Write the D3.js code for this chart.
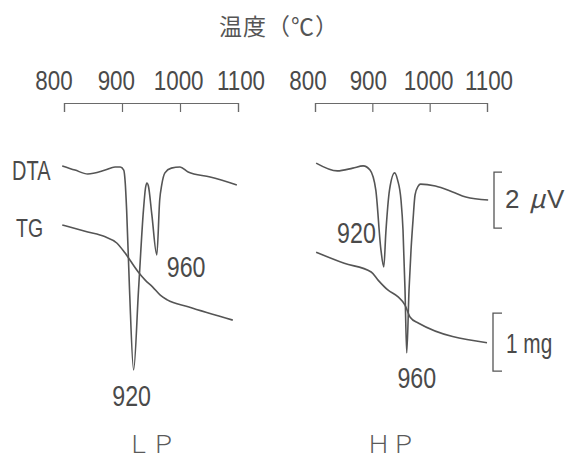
<!DOCTYPE html>
<html><head><meta charset="utf-8">
<script src="https://cdn.jsdelivr.net/npm/d3@7"></script>
<style>
html,body{margin:0;padding:0;background:#fff;}
svg{display:block;}
</style></head>
<body>
<svg id="chart" width="568" height="461"></svg>
<script>
// Temperature axis (°C), shared by both panels
const tickValues = [800, 900, 1000, 1100];
const tickLabels = ["800", "900", "1000", "1100"];
const axisTitle = "温度（℃）";
const panelNames = ["ＬＰ", "ＨＰ"];
const peakTemps = [920, 960];

// DTA traces: [temperature °C, signal μV]
const lpDTA = [[797,0.04],[819,-0.11],[841,-0.25],[871,-0.11],[888,0],[897,0],[903,-0.11],[905.5,-0.54],[908,-1.54],[913,-4.39],[920,-7.25],[928.5,-4.39],[937,-1.54],[940.5,-0.75],[943,-0.57],[945.5,-0.68],[951.5,-1.71],[960,-3.14],[965,-1.18],[968.5,-0.64],[974,-0.21],[985,-0.04],[1000,0],[1014,-0.18],[1052,-0.36],[1098,-0.64]];
const hpDTA = [[802,0.14],[839,-0.14],[866,-0.04],[884,0.04],[896,-0.11],[906,-0.82],[915,-2.96],[920,-3.57],[923.5,-2.36],[930,-0.82],[939,-0.21],[944,-0.46],[950,-1.18],[953.5,-2.25],[957,-4.39],[960,-6.64],[964,-4.39],[967.5,-2.96],[971,-1.89],[974.5,-1.0],[980,-0.68],[984,-0.61],[1010,-0.68],[1040,-0.89],[1063,-1.07],[1102,-1.18]];

// TG traces: [temperature °C, mass change mg]
const lpTG = [[797,0],[841,-0.12],[870,-0.2],[891,-0.31],[905,-0.48],[928,-0.81],[940,-0.95],[953,-1.07],[966,-1.21],[978,-1.29],[1014,-1.41],[1091,-1.64]];
const hpTG = [[802,-0.47],[851,-0.66],[898,-0.81],[910,-0.95],[927,-1.12],[945,-1.24],[957,-1.38],[966,-1.59],[980,-1.69],[1100,-2.03]];

// Scale bar sizes
const dtaBar = 2;   // μV
const tgBar = 1;    // mg

const ink = "#4a4a4a";
const latin = "'Liberation Sans', Arial, sans-serif";
const cjk = "'Noto Sans CJK JP', 'Noto Sans CJK SC', sans-serif";

const svg = d3.select("#chart");

// vertical scales shared by both panels
const yDTA = d3.scaleLinear().domain([0, -dtaBar]).range([167, 223]);
const yTG = d3.scaleLinear().domain([0, -tgBar]).range([225, 283]);

// condensed label text
function narrow(g, x, y, txt, size, sx, anchor) {
  return g.append("text")
    .attr("transform", `translate(${x},${y}) scale(${sx},1)`)
    .attr("font-family", latin)
    .attr("font-size", size)
    .attr("fill", ink)
    .attr("text-anchor", anchor || "start")
    .text(txt);
}

// axis title
svg.append("text")
  .attr("x", 219).attr("y", 35)
  .attr("font-family", cjk).attr("font-size", 23)
  .attr("fill", "#555")
  .attr("letter-spacing", 1)
  .text(axisTitle);

const panels = [
  { name: panelNames[0], range: [64, 238], labelRange: [54, 241], dta: lpDTA, tg: lpTG, nameX: 151,
    peaks: [ {dx: -2, dy: 36, anchor: "middle"}, {dx: 10, dy: 22, anchor: "start"} ] },
  { name: panelNames[1], range: [315, 487], labelRange: [308, 489], dta: hpDTA, tg: hpTG, nameX: 391,
    peaks: [ {dx: -8, dy: -24, anchor: "end"}, {dx: 10, dy: 35, anchor: "middle"} ] }
];

panels.forEach((p, i) => {
  const x = d3.scaleLinear().domain([800, 1100]).range(p.range);
  const xl = d3.scaleLinear().domain([800, 1100]).range(p.labelRange);
  const g = svg.append("g");

  // tick labels
  tickValues.forEach((t, k) => narrow(g, xl(t), 90, tickLabels[k], 28, 0.8, "middle"));

  // bracket-style axis
  const ax = g.append("g").attr("transform", "translate(0,103)")
    .call(d3.axisBottom(x).tickValues(tickValues).tickSize(9).tickFormat(""));
  ax.selectAll("path,line").attr("stroke", "#6a6a6a").attr("stroke-width", 1.2);

  const lineDTA = d3.line().x(d => x(d[0])).y(d => yDTA(d[1])).curve(d3.curveMonotoneX);
  const lineTG = d3.line().x(d => x(d[0])).y(d => yTG(d[1])).curve(d3.curveMonotoneX);

  g.append("path").attr("d", lineDTA(p.dta))
    .attr("fill", "none").attr("stroke", "#555").attr("stroke-width", 1.6).attr("stroke-linejoin", "round");
  g.append("path").attr("d", lineTG(p.tg))
    .attr("fill", "none").attr("stroke", "#555").attr("stroke-width", 1.6).attr("stroke-linejoin", "round");

  // peak temperature labels
  peakTemps.forEach((t, k) => {
    const pt = p.dta.find(d => d[0] === t);
    const o = p.peaks[k];
    narrow(g, x(t) + o.dx, yDTA(pt[1]) + o.dy, String(t), 29, 0.8, o.anchor);
  });

  // panel name
  g.append("text")
    .attr("x", p.nameX).attr("y", 453)
    .attr("text-anchor", "middle")
    .attr("font-family", cjk).attr("font-size", 25).attr("font-weight", 300)
    .attr("fill", "#5a5a5a")
    .text(p.name);

  if (i === 0) {
    narrow(g, 12, 180, "DTA", 27, 0.74);
    narrow(g, 16, 237, "TG", 25, 0.78);
  } else {
    // DTA scale bar
    const bx = 494, y1 = yDTA(-0.18), y2 = yDTA(-0.18 - dtaBar);
    g.append("path").attr("d", `M${bx + 8},${y1}H${bx}V${y2}H${bx + 8}`)
      .attr("fill", "none").attr("stroke", "#555").attr("stroke-width", 1.3);
    const t1 = g.append("text").attr("y", 208).attr("font-size", 26).attr("fill", ink);
    t1.append("tspan").attr("x", bx + 11).attr("font-family", latin).text(dtaBar);
    t1.append("tspan").attr("x", bx + 35).attr("font-family", cjk).attr("font-style", "italic").text("μ");
    t1.append("tspan").attr("x", bx + 53).attr("font-family", latin).text("V");

    // TG scale bar
    const tx = 493, z1 = yTG(-1.52), z2 = yTG(-1.52 - tgBar);
    g.append("path").attr("d", `M${tx + 9},${z1}H${tx}V${z2}H${tx + 9}`)
      .attr("fill", "none").attr("stroke", "#555").attr("stroke-width", 1.3);
    narrow(g, 506, 353, tgBar + " mg", 27, 0.77);
  }
});
</script>
</body></html>
